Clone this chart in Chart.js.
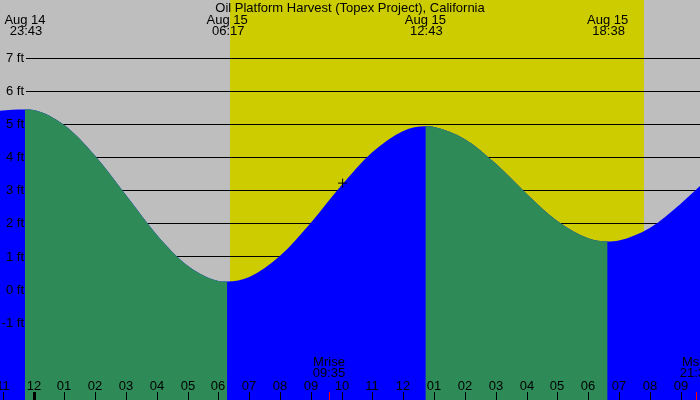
<!DOCTYPE html>
<html>
<head>
<meta charset="utf-8">
<script src="https://cdn.jsdelivr.net/npm/chart.js@4.4.1/dist/chart.umd.min.js"></script>
<style>
html,body{margin:0;padding:0;background:#bebebe;}
#wrap{position:relative;width:700px;height:400px;}
</style>
</head>
<body>
<div id="wrap"><canvas id="c"></canvas></div>
<script>
// ---- data ----
const chartTitle = 'Oil Platform Harvest (Topex Project), California';
const tideHours = [-1.094, -0.7, -0.283, 0, 1, 2, 3, 4, 5, 6, 6.283, 7, 8, 9, 10, 11, 12, 12.717, 13, 14, 15, 16, 17, 18, 18.633, 19, 20, 21, 21.633];
const tideFeet  = [5.41, 5.44, 5.45, 5.43, 4.97, 4.04, 2.85, 1.65, 0.72, 0.26, 0.24, 0.38, 1.02, 2.02, 3.16, 4.16, 4.80, 4.94, 4.92, 4.55, 3.81, 2.90, 2.07, 1.55, 1.45, 1.48, 1.86, 2.59, 3.13];
const extremeHours = [-0.283, 6.283, 12.717, 18.633];
const extremeDays  = ['Aug 14', 'Aug 15', 'Aug 15', 'Aug 15'];
const extremeTimes = ['23:43', '06:17', '12:43', '18:38'];
const feetTicks = [7, 6, 5, 4, 3, 2, 1, 0, -1];
const hourTicks = [-1, 0, 1, 2, 3, 4, 5, 6, 7, 8, 9, 10, 11, 12, 13, 14, 15, 16, 17, 18, 19, 20, 21];
const hourLabels = ['11', '12', '01', '02', '03', '04', '05', '06', '07', '08', '09', '10', '11', '12', '01', '02', '03', '04', '05', '06', '07', '08', '09'];
const sunHours = [6.37, 19.8];
const moonHours = [9.583, 21.5];
const moonNames = ['Mrise', 'Mset'];
const moonTimes = ['09:35', '21:30'];
const markerHours = [10.03];
const markerFeet = [3.22];

const BLUE = '#0000ff', GREEN = '#2e8b57', GREY = '#bebebe', YELLOW = '#cccc00';
const FONT = '13px "Liberation Sans", Arial, sans-serif';

const tidePoints = tideHours.map((h, i) => ({x: h, y: tideFeet[i]}));
const markerPoints = markerHours.map((h, i) => ({x: h, y: markerFeet[i]}));

const decor = {
  id: 'decor',
  beforeDatasetsDraw(chart) {
    const {ctx, chartArea: a, scales: {x, y}} = chart;
    ctx.save();
    ctx.fillStyle = GREY;
    ctx.fillRect(0, 0, chart.width, chart.height);
    const sx0 = Math.round(x.getPixelForValue(sunHours[0]));
    const sx1 = Math.round(x.getPixelForValue(sunHours[1]));
    ctx.fillStyle = YELLOW;
    ctx.fillRect(sx0, 0, sx1 - sx0, chart.height);
    ctx.strokeStyle = '#000';
    ctx.lineWidth = 1;
    feetTicks.forEach(v => {
      const py = Math.round(y.getPixelForValue(v)) + 0.5;
      ctx.beginPath();
      ctx.moveTo(26, py);
      ctx.lineTo(a.right, py);
      ctx.stroke();
    });
    ctx.restore();
  },
  afterDatasetsDraw(chart) {
    const {ctx, scales: {x, y}} = chart;
    ctx.save();
    ctx.font = FONT;
    ctx.fillStyle = '#000';
    ctx.textBaseline = 'middle';
    ctx.textAlign = 'center';
    ctx.fillText(chartTitle, 350, 8);
    extremeHours.forEach((h, i) => {
      const px = x.getPixelForValue(h);
      ctx.fillText(extremeDays[i], px, 20);
      ctx.fillText(extremeTimes[i], px + 1, 31.5);
    });
    ctx.textAlign = 'right';
    feetTicks.forEach(v => {
      ctx.fillText(v + ' ft', 24, y.getPixelForValue(v) + 0.5);
    });
    ctx.textAlign = 'center';
    hourTicks.forEach((h, i) => {
      const px = Math.round(x.getPixelForValue(h));
      ctx.fillText(hourLabels[i], px, 386);
      if (h === 0) {
        ctx.fillRect(px - 1, 392, 3, 8);
      } else {
        ctx.fillRect(px, 392, 1, 8);
      }
    });
    moonHours.forEach((h, i) => {
      const px = Math.round(x.getPixelForValue(h));
      ctx.fillStyle = '#ff0000';
      ctx.fillRect(px, 392, 1, 8);
      ctx.fillStyle = '#000';
      ctx.fillText(moonNames[i], px, 362);
      ctx.fillText(moonTimes[i], px, 373.5);
    });
    ctx.restore();
  }
};

const tideBase = {
  data: tidePoints,
  borderWidth: 0,
  borderColor: 'rgba(0,0,0,0)',
  pointRadius: 0,
  pointHoverRadius: 0,
  cubicInterpolationMode: 'monotone',
  fill: 'start'
};

new Chart(document.getElementById('c'), {
  type: 'line',
  data: {
    datasets: [
      Object.assign({}, tideBase, {order: 3, backgroundColor: BLUE}),
      Object.assign({}, tideBase, {
        order: 2,
        backgroundColor: GREEN,
        segment: {
          backgroundColor: c => (c.p1.parsed.y >= c.p0.parsed.y ? 'rgba(0,0,0,0)' : GREEN)
        }
      }),
      {
        type: 'scatter',
        order: 1,
        data: markerPoints,
        pointStyle: 'cross',
        pointRadius: 4.5,
        borderColor: '#000',
        borderWidth: 1,
        backgroundColor: '#000'
      }
    ]
  },
  options: {
    responsive: true,
    maintainAspectRatio: false,
    animation: false,
    devicePixelRatio: 1,
    events: [],
    layout: {padding: 0, autoPadding: false},
    plugins: {legend: {display: false}, title: {display: false}, tooltip: {enabled: false}},
    scales: {
      x: {type: 'linear', min: -1.094, max: 21.633, display: false},
      y: {type: 'linear', min: -3.343, max: 8.76, display: false}
    }
  },
  plugins: [decor]
});
</script>
</body>
</html>
